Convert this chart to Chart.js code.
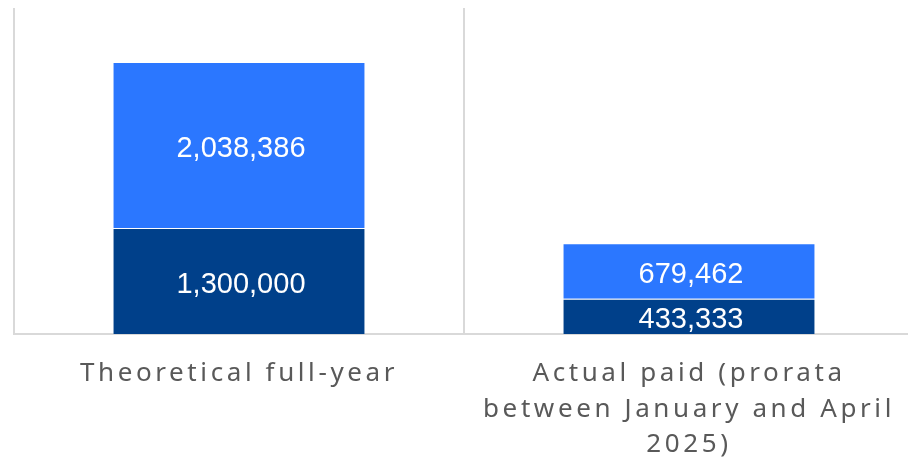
<!DOCTYPE html>
<html>
<head>
<meta charset="utf-8">
<script src="https://cdn.jsdelivr.net/npm/chart.js@4"></script>
<style>
  html, body { margin: 0; padding: 0; background: #fff; overflow: hidden; }
  #wrap { width: 914px; height: 466px; }
</style>
</head>
<body>
<div id="wrap"><canvas id="paymentsChart"></canvas></div>
<script>
// --- Données ---
const categories = [
    ['Theoretical full-year'],
    ['Actual paid (prorata', 'between January and April', '2025)']
];
const basePart = [1300000, 433333];
const extraPart = [2038386, 679462];
const yMax = 4000000;

const fmt = n => n.toLocaleString('en-US');

// Espacement des lettres pour les libellés de l'axe X
const tickSpacing = {
    id: 'tickSpacing',
    beforeDraw(chart) {
        chart.ctx.letterSpacing = '3.6px';
    },
    beforeDatasetsDraw(chart) {
        chart.ctx.letterSpacing = '0px';
    }
};

// Valeurs écrites au centre de chaque segment
const segmentLabels = {
    id: 'segmentLabels',
    afterDatasetsDraw(chart) {
        const ctx = chart.ctx;
        ctx.save();
        ctx.letterSpacing = '0px';
        ctx.font = '29px "Liberation Sans", Arial, sans-serif';
        ctx.fillStyle = '#ffffff';
        ctx.textAlign = 'center';
        ctx.textBaseline = 'middle';
        chart.data.datasets.forEach((ds, i) => {
            chart.getDatasetMeta(i).data.forEach((bar, j) => {
                const y = (bar.y + bar.base) / 2;
                ctx.fillText(fmt(ds.data[j]), bar.x + 2, y + 4);
            });
        });
        ctx.restore();
    }
};

new Chart(document.getElementById('paymentsChart').getContext('2d'), {
    type: 'bar',
    data: {
        labels: categories,
        datasets: [{
            label: 'Base',
            data: basePart,
            backgroundColor: '#00408a',
            borderColor: 'rgba(255,255,255,0.35)',
            borderWidth: 1,
            categoryPercentage: 1,
            barPercentage: 0.562
        }, {
            label: 'Extra',
            data: extraPart,
            backgroundColor: '#2b77ff',
            borderColor: 'rgba(255,255,255,0.45)',
            borderWidth: 1,
            categoryPercentage: 1,
            barPercentage: 0.562
        }]
    },
    options: {
        responsive: true,
        maintainAspectRatio: false,
        animation: false,
        layout: { padding: { left: 14, right: 0, top: 8, bottom: 0 } },
        plugins: {
            legend: { display: false },
            tooltip: { enabled: false }
        },
        scales: {
            x: {
                stacked: true,
                grid: { color: '#d9d9d9', lineWidth: 2, drawTicks: false },
                border: { display: true, color: '#d9d9d9', width: 2 },
                ticks: {
                    color: '#595959',
                    padding: 22,
                    maxRotation: 0,
                    autoSkip: false,
                    font: { family: '"Noto Sans", sans-serif', size: 26, lineHeight: 1.37 }
                },
                afterFit(scale) { scale.height = 132; }
            },
            y: {
                stacked: true,
                display: false,
                min: 0,
                max: yMax
            }
        }
    },
    plugins: [tickSpacing, segmentLabels]
});
</script>
</body>
</html>
